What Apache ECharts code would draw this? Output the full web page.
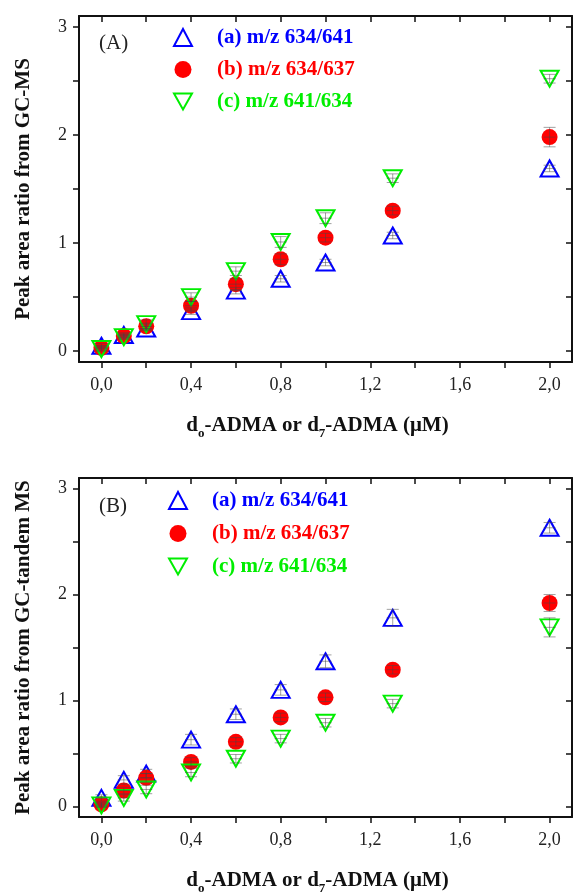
<!DOCTYPE html>
<html>
<head>
<meta charset="utf-8">
<script src="https://cdn.jsdelivr.net/npm/echarts@6/dist/echarts.min.js"></script>
<style>
  html, body { margin: 0; padding: 0; background: #fff; }
  #chart { width: 576px; height: 896px; }
</style>
</head>
<body>
<div id="chart"></div>
<script>
// concentrations (uM)
var xVals = [0, 0.1, 0.2, 0.4, 0.6, 0.8, 1.0, 1.3, 2.0];

// panel A : GC-MS
var gcmsA = [0.05, 0.15, 0.21, 0.37, 0.56, 0.67, 0.82, 1.07, 1.69];
var gcmsB = [0.03, 0.14, 0.23, 0.42, 0.62, 0.85, 1.05, 1.30, 1.98];
var gcmsC = [0.02, 0.13, 0.25, 0.50, 0.74, 1.01, 1.23, 1.60, 2.52];
var errGcmsA = [0.02, 0.02, 0.02, 0.03, 0.03, 0.03, 0.03, 0.03, 0.03];
var errGcmsB = [0.02, 0.02, 0.03, 0.04, 0.05, 0.05, 0.04, 0.04, 0.09];
var errGcmsC = [0.02, 0.02, 0.04, 0.04, 0.04, 0.05, 0.05, 0.04, 0.04];

// panel B : GC-tandem MS
var tandemA = [0.08, 0.25, 0.31, 0.63, 0.87, 1.10, 1.37, 1.78, 2.63];
var tandemB = [0.02, 0.15, 0.27, 0.42, 0.61, 0.84, 1.03, 1.29, 1.92];
var tandemC = [0.01, 0.08, 0.16, 0.32, 0.45, 0.64, 0.79, 0.97, 1.69];
var errTandemA = [0.03, 0.04, 0.04, 0.05, 0.05, 0.05, 0.06, 0.08, 0.05];
var errTandemB = [0.02, 0.03, 0.04, 0.04, 0.04, 0.04, 0.04, 0.04, 0.08];
var errTandemC = [0.02, 0.03, 0.04, 0.04, 0.04, 0.04, 0.04, 0.04, 0.09];

var names = ['(a) m/z 634/641', '(b) m/z 634/637', '(c) m/z 641/634'];
var colors = ['#0000ff', '#ff0000', '#00ee00'];

var xTicks = [0, 0.2, 0.4, 0.6, 0.8, 1.0, 1.2, 1.4, 1.6, 1.8, 2.0];
var xLabels = [0, 0.4, 0.8, 1.2, 1.6, 2.0];
var yTicks = [0, 0.5, 1, 1.5, 2, 2.5, 3];
var yLabels = [0, 1, 2, 3];

var serif = "'Liberation Serif', 'DejaVu Serif', serif";
var xName = 'd{sub|o}-ADMA or d{sub|7}-ADMA (μM)';
var downTri = 'path://M0,0 L18,0 L9,16 Z';

function fmtX(v) { return v.toFixed(1).replace('.', ','); }

function xAxisDef(grid, top) {
	return {
		type: 'value', gridIndex: grid, position: top ? 'top' : 'bottom',
		min: -0.1, max: 2.1,
		name: top ? '' : xName, nameLocation: 'middle', nameGap: 49,
		nameTextStyle: {
			fontFamily: serif, fontSize: 21, fontWeight: 'bold', color: '#111', padding: [0, 16, 0, 0],
			rich: { sub: { fontFamily: serif, fontSize: 13, fontWeight: 'bold', color: '#111', verticalAlign: 'bottom', lineHeight: 29 } }
		},
		axisLine: { show: true, onZero: false, lineStyle: { color: '#111', width: 2 } },
		axisTick: { show: true, inside: top, length: 6, customValues: xTicks, lineStyle: { color: '#111', width: 1.5 } },
		axisLabel: { show: !top, margin: 14, customValues: xLabels, formatter: fmtX,
			fontFamily: serif, fontSize: 18, color: '#222' },
		splitLine: { show: false }
	};
}

function yAxisDef(grid, right, title) {
	return {
		type: 'value', gridIndex: grid, position: right ? 'right' : 'left',
		min: -0.1, max: 3.1,
		name: right ? '' : title, nameLocation: 'middle', nameGap: 45,
		nameTextStyle: { fontFamily: serif, fontSize: 21, fontWeight: 'bold', color: '#111' },
		axisLine: { show: true, onZero: false, lineStyle: { color: '#111', width: 2 } },
		axisTick: { show: true, inside: right, length: 6, customValues: yTicks, lineStyle: { color: '#111', width: 1.5 } },
		axisLabel: { show: !right, margin: 12, customValues: yLabels, formatter: function (v) { return String(Math.round(v)); },
			fontFamily: serif, fontSize: 18, color: '#222' },
		splitLine: { show: false }
	};
}

function pts(vals, errs) {
	return xVals.map(function (x, i) { return [x, vals[i], errs[i]]; });
}

var symbols = [
	{ symbol: 'triangle', size: [18, 16], fill: 'rgba(0,0,0,0)' },
	{ symbol: 'circle', size: 16, fill: colors[1] },
	{ symbol: downTri, size: [18, 16], fill: 'rgba(0,0,0,0)' }
];

function scatter(k, grid, vals, errs) {
	var s = symbols[k];
	return {
		name: names[k], type: 'scatter', xAxisIndex: grid * 2, yAxisIndex: grid * 2,
		symbol: s.symbol, symbolSize: s.size,
		itemStyle: { color: s.fill, borderColor: colors[k], borderWidth: k === 1 ? 0 : 2, opacity: 1 },
		data: pts(vals, errs), z: 2 + k * 0.1
	};
}

function errorBars(k, grid, vals, errs) {
	return {
		name: 'err' + grid + k, type: 'custom', xAxisIndex: grid * 2, yAxisIndex: grid * 2, z: 5,
		renderItem: function (params, api) {
			var x = api.value(0), y = api.value(1), e = api.value(2);
			var c = api.coord([x, y]);
			var hi = api.coord([x, y + e]);
			var lo = api.coord([x, y - e]);
			var w = 6;
			var st = { stroke: 'rgba(70,70,70,0.5)', lineWidth: 1 };
			return {
				type: 'group', children: [
					{ type: 'line', shape: { x1: c[0], y1: hi[1], x2: c[0], y2: lo[1] }, style: st },
					{ type: 'line', shape: { x1: c[0] - w, y1: hi[1], x2: c[0] + w, y2: hi[1] }, style: st },
					{ type: 'line', shape: { x1: c[0] - w, y1: lo[1], x2: c[0] + w, y2: lo[1] }, style: st },
					{ type: 'line', shape: { x1: c[0] - w, y1: c[1], x2: c[0] + w, y2: c[1] }, style: st }
				]
			};
		},
		data: pts(vals, errs)
	};
}

function legendDef(left, top, gap) {
	return {
		orient: 'vertical', left: left, top: top, padding: 0,
		itemWidth: 18, itemHeight: 17, itemGap: gap,
		selectedMode: false,
		textStyle: { fontFamily: serif, fontSize: 21, fontWeight: 'bold', padding: [0, 0, 0, 20] },
		data: names.map(function (n, k) {
			return { name: n, icon: k === 2 ? downTri : undefined, textStyle: { color: colors[k] } };
		})
	};
}

var chart = echarts.init(document.getElementById('chart'));
chart.setOption({
	animation: false,
	backgroundColor: '#fff',
	title: [
		{ text: '(A)', left: 99, top: 33, padding: 0, textStyle: { fontFamily: serif, fontSize: 21, fontWeight: 'normal', color: '#222' } },
		{ text: '(B)', left: 99, top: 496, padding: 0, textStyle: { fontFamily: serif, fontSize: 21, fontWeight: 'normal', color: '#222' } }
	],
	legend: [legendDef(173, 27, 11), legendDef(168, 490, 12)],
	grid: [
		{ left: 79, top: 16, right: 4, height: 346 },
		{ left: 79, top: 478, right: 4, height: 348 }
	],
	xAxis: [xAxisDef(0, false), xAxisDef(0, true), xAxisDef(1, false), xAxisDef(1, true)],
	yAxis: [
		yAxisDef(0, false, 'Peak area ratio from GC-MS'), yAxisDef(0, true),
		yAxisDef(1, false, 'Peak area ratio from GC-tandem MS'), yAxisDef(1, true)
	],
	series: [
		scatter(0, 0, gcmsA, errGcmsA), scatter(1, 0, gcmsB, errGcmsB), scatter(2, 0, gcmsC, errGcmsC),
		errorBars(0, 0, gcmsA, errGcmsA), errorBars(1, 0, gcmsB, errGcmsB), errorBars(2, 0, gcmsC, errGcmsC),
		scatter(0, 1, tandemA, errTandemA), scatter(1, 1, tandemB, errTandemB), scatter(2, 1, tandemC, errTandemC),
		errorBars(0, 1, tandemA, errTandemA), errorBars(1, 1, tandemB, errTandemB), errorBars(2, 1, tandemC, errTandemC)
	]
});
</script>
</body>
</html>
